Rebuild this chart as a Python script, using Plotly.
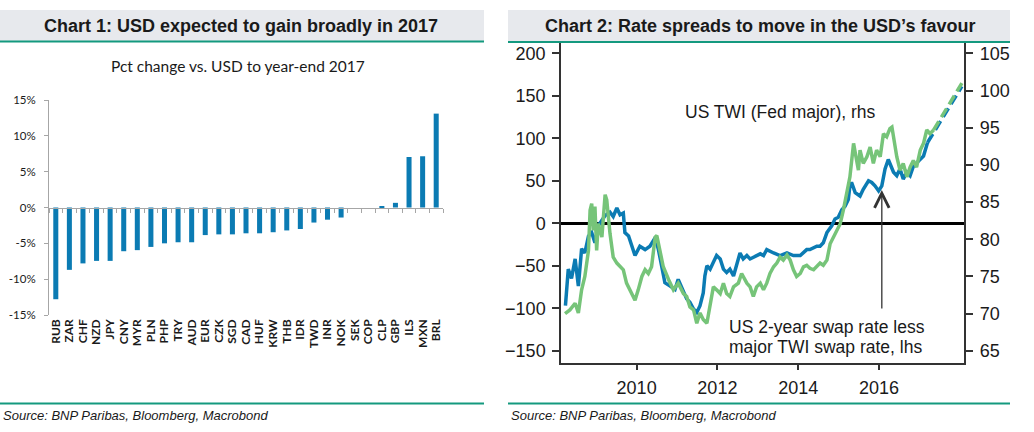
import plotly.graph_objects as go
import pandas as pd

W, H = 1034, 432

# ---------------- Chart 1 data ----------------
currencies = ["RUB", "ZAR", "CHF", "NZD", "JPY", "CNY", "MYR", "PLN", "PHP", "TRY",
              "AUD", "EUR", "CZK", "SGD", "CAD", "HUF", "KRW", "THB", "IDR", "TWD",
              "INR", "NOK", "SEK", "COP", "CLP", "GBP", "ILS", "MXN", "BRL"]
pct_change = [-12.8, -8.7, -7.8, -7.45, -7.45, -6.1, -5.95, -5.5, -5.0, -4.85,
              -4.85, -3.85, -3.75, -3.75, -3.6, -3.6, -3.45, -3.2, -3.0, -2.1,
              -1.7, -1.4, 0.0, 0.0, 0.1, 0.65, 7.05, 7.15, 13.1]
pct_ticks = [-15, -10, -5, 0, 5, 10, 15]

# ---------------- Chart 2 data ----------------
spread_years = [2008.24, 2008.31, 2008.39, 2008.48, 2008.56, 2008.64, 2008.72, 2008.81, 2008.89, 2008.97,
                2009.05, 2009.22, 2009.34, 2009.42, 2009.51, 2009.59, 2009.67, 2009.71, 2009.80, 2009.88,
                2009.96, 2010.08, 2010.21, 2010.33, 2010.46, 2010.54, 2010.62, 2010.70, 2010.83, 2010.95,
                2011.03, 2011.16, 2011.24, 2011.32, 2011.41, 2011.49, 2011.57, 2011.65, 2011.69, 2011.74,
                2011.82, 2011.90, 2011.98, 2012.07, 2012.15, 2012.23, 2012.31, 2012.40, 2012.48, 2012.56,
                2012.64, 2012.73, 2012.81, 2012.89, 2012.97, 2013.06, 2013.14, 2013.22, 2013.39, 2013.55,
                2013.72, 2013.88, 2014.05, 2014.21, 2014.29, 2014.46, 2014.54, 2014.62, 2014.71, 2014.83,
                2014.91, 2014.99, 2015.08, 2015.16, 2015.24, 2015.28, 2015.32, 2015.41, 2015.53, 2015.61,
                2015.74, 2015.82, 2015.90, 2015.99, 2016.07, 2016.15, 2016.23, 2016.27, 2016.36, 2016.44,
                2016.52, 2016.60, 2016.69, 2016.77, 2016.85, 2016.93, 2017.02, 2017.10, 2017.20]
spread_bp = [-97, -54, -65, -42, -74, -30, -35, -15, -11, -23,
             -3, 9, 13, 8, 18, 10, 12, -11, -15, -27,
             -38, -27, -31, -27, -17, -31, -50, -70, -74, -78,
             -66, -80, -89, -93, -101, -105, -97, -82, -62, -50,
             -54, -46, -38, -42, -54, -58, -54, -62, -50, -35,
             -42, -38, -42, -40, -38, -36, -38, -31, -35, -38,
             -35, -38, -38, -31, -31, -27, -27, -23, -11, -3,
             5, 7, 16, 20, 28, 44, 48, 36, 32, 40,
             50, 48, 44, 38, 44, 64, 75, 71, 60, 56,
             64, 52, 60, 56, 67, 71, 75, 79, 95]

twi_years = [2008.23, 2008.35, 2008.48, 2008.56, 2008.64, 2008.72, 2008.81, 2008.85, 2008.89, 2008.93,
             2008.97, 2009.01, 2009.05, 2009.14, 2009.22, 2009.26, 2009.34, 2009.42, 2009.51, 2009.59,
             2009.67, 2009.75, 2009.84, 2009.96, 2010.04, 2010.13, 2010.21, 2010.29, 2010.37, 2010.46,
             2010.50, 2010.58, 2010.66, 2010.79, 2010.91, 2011.03, 2011.16, 2011.24, 2011.32, 2011.41,
             2011.49, 2011.57, 2011.65, 2011.74, 2011.82, 2011.90, 2011.98, 2012.07, 2012.15, 2012.23,
             2012.31, 2012.40, 2012.52, 2012.60, 2012.73, 2012.81, 2012.89, 2012.97, 2013.06, 2013.14,
             2013.22, 2013.30, 2013.39, 2013.47, 2013.55, 2013.63, 2013.72, 2013.80, 2013.88, 2013.96,
             2014.05, 2014.13, 2014.21, 2014.29, 2014.38, 2014.46, 2014.54, 2014.62, 2014.71, 2014.79,
             2014.95, 2015.04, 2015.12, 2015.20, 2015.28, 2015.37, 2015.41, 2015.49, 2015.53, 2015.61,
             2015.70, 2015.78, 2015.86, 2015.94, 2016.03, 2016.11, 2016.19, 2016.27, 2016.32, 2016.36,
             2016.44, 2016.52, 2016.60, 2016.69, 2016.77, 2016.85, 2016.93, 2017.02, 2017.10, 2017.18,
             2017.26, 2017.35]
twi_index = [70.0, 70.5, 71.4, 70.1, 73.2, 75.0, 78.5, 83.9, 84.8, 81.2,
             84.4, 78.5, 82.1, 80.3, 86.0, 85.3, 80.8, 77.6, 76.8, 76.3,
             75.9, 74.1, 73.2, 71.8, 73.2, 75.0, 75.9, 75.4, 76.3, 80.3,
             80.5, 78.5, 76.3, 74.6, 73.2, 74.1, 72.7, 72.3, 70.9, 70.5,
             68.7, 70.1, 69.2, 68.7, 70.9, 73.6, 73.2, 72.7, 74.1, 72.7,
             72.3, 73.6, 74.1, 75.4, 74.1, 73.6, 72.3, 73.6, 74.1, 73.2,
             74.1, 75.4, 76.3, 76.8, 77.6, 77.2, 77.9, 77.2, 75.9, 75.0,
             75.4, 76.3, 76.5, 76.1, 75.9, 76.3, 76.8, 76.5, 77.2, 79.4,
             81.2, 82.1, 84.0, 86.2, 88.4, 92.9, 91.6, 89.3, 92.0, 90.2,
             91.1, 92.4, 90.2, 92.0, 91.1, 94.2, 93.8, 94.9, 95.1, 93.8,
             91.1, 89.3, 90.2, 88.4, 89.7, 90.6, 89.7, 92.0, 92.9, 94.7,
             94.2, 94.7]

spread_fc_years = [2017.20, 2018.05]
spread_fc_bp = [95, 161]
twi_fc_years = [2017.35, 2018.05]
twi_fc_index = [94.7, 101.0]

lhs_ticks = [-150, -100, -50, 0, 50, 100, 150, 200]
rhs_ticks = [65, 70, 75, 80, 85, 90, 95, 100, 105]
year_ticks = [2010, 2012, 2014, 2016]

arrow_year, arrow_tip, arrow_tail = 2016.07, 39, -102


def to_date(y):
    yr = int(y)
    return pd.Timestamp(year=yr, month=1, day=1) + pd.Timedelta(days=(y - yr) * 365.25)


def dates(years):
    return [to_date(y) for y in years]


def px(x):
    return x / W


def py(y):
    return 1 - y / H


BLUE = "#0b7bb3"
GREEN = "#76c479"
TEAL = "#14997f"
BAND = "#e7e9ed"
TXT = "#1a1a1a"

fig = go.Figure()

# Chart 1 bars
fig.add_trace(go.Bar(x=currencies, y=pct_change, marker=dict(color=BLUE, line=dict(width=0)),
                     xaxis="x", yaxis="y", showlegend=False, hoverinfo="skip"))

# Chart 2 lines
fig.add_trace(go.Scatter(x=dates(spread_years), y=spread_bp, mode="lines",
                         line=dict(color=BLUE, width=3.5), xaxis="x3", yaxis="y3",
                         showlegend=False, hoverinfo="skip"))
fig.add_trace(go.Scatter(x=dates(spread_fc_years), y=spread_fc_bp, mode="lines",
                         line=dict(color=BLUE, width=3.5, dash="10px,5px"), xaxis="x3", yaxis="y3",
                         showlegend=False, hoverinfo="skip"))
fig.add_trace(go.Scatter(x=dates(twi_years), y=twi_index, mode="lines",
                         line=dict(color=GREEN, width=3.5), xaxis="x3", yaxis="y4",
                         showlegend=False, hoverinfo="skip"))
fig.add_trace(go.Scatter(x=dates(twi_fc_years), y=twi_fc_index, mode="lines",
                         line=dict(color=GREEN, width=3.5, dash="10px,5px"), xaxis="x3", yaxis="y4",
                         showlegend=False, hoverinfo="skip"))

y1_dom = [py(315), py(100)]
y3_dom = [py(362.7), py(43)]

fig.update_layout(
    template="none",
    width=W, height=H, margin=dict(l=0, r=0, t=0, b=0, pad=0, autoexpand=False),
    paper_bgcolor="white", plot_bgcolor="rgba(0,0,0,0)",
    showlegend=False,
    bargap=0.63,
    font=dict(family="Liberation Sans, Arial", color=TXT),
    xaxis=dict(domain=[px(49), px(443)], anchor="free", position=(y1_dom[0] + y1_dom[1]) / 2,
               type="category", categoryorder="array", categoryarray=currencies,
               tickmode="array", tickvals=currencies, ticktext=currencies,
               showline=True, linecolor="#a6a6a6", linewidth=1,
               ticks="outside", ticklen=4, tickcolor="#a6a6a6", tickson="boundaries",
               showgrid=False, zeroline=False, tickangle=-90, automargin=False,
               tickfont=dict(family="Lato", size=12, color=TXT, weight="bold"),
               ticklabelstandoff=106),
    yaxis=dict(domain=y1_dom, anchor="x", range=[-15, 15], tickmode="array", tickvals=pct_ticks,
               ticktext=[f"{v}%" for v in pct_ticks],
               showline=True, linecolor="#a6a6a6", linewidth=1,
               ticks="outside", ticklen=4, tickcolor="#a6a6a6", showgrid=False,
               zeroline=False, automargin=False,
               tickfont=dict(family="Lato", size=11.5, color=TXT),
               ticklabelstandoff=6),
    xaxis3=dict(domain=[px(561), px(964.3)], anchor="y3", type="date",
                range=[to_date(2008.13), to_date(2018.11)],
                tickmode="array",
                tickvals=[pd.Timestamp(year=y, month=1, day=1) for y in year_ticks],
                ticktext=[str(y) for y in year_ticks],
                showline=True, linecolor="#333333", linewidth=1.5, mirror=False,
                ticks="outside", ticklen=6, tickcolor="#333333", tickwidth=1.5,
                showgrid=False, zeroline=False, automargin=False,
                tickfont=dict(size=18, color=TXT), ticklabelstandoff=2),
    yaxis3=dict(domain=y3_dom, anchor="x3", range=[-164.1, 212.1],
                tickmode="array", tickvals=lhs_ticks,
                showline=True, linecolor="#333333", linewidth=1.5,
                ticks="outside", ticklen=7, tickcolor="#333333", tickwidth=1.5,
                showgrid=False, zeroline=True, zerolinecolor="black", zerolinewidth=3,
                automargin=False,
                tickfont=dict(size=18, color=TXT), ticklabelstandoff=3),
    yaxis4=dict(domain=y3_dom, anchor="x3", overlaying="y3", side="right",
                range=[63.4, 106.4], tickmode="array", tickvals=rhs_ticks,
                showline=True, linecolor="#333333", linewidth=1.5,
                ticks="outside", ticklen=7, tickcolor="#333333", tickwidth=1.5,
                showgrid=False, zeroline=False, automargin=False,
                tickfont=dict(size=18, color=TXT), ticklabelstandoff=3),
)

shapes = [
    dict(type="rect", xref="paper", yref="paper", x0=px(0), x1=px(484), y0=py(41), y1=py(10),
         fillcolor=BAND, line=dict(width=0), layer="below"),
    dict(type="rect", xref="paper", yref="paper", x0=px(508), x1=px(1010), y0=py(42), y1=py(10),
         fillcolor=BAND, line=dict(width=0), layer="below"),
    dict(type="line", xref="paper", yref="paper", x0=px(0), x1=px(484), y0=py(41.5), y1=py(41.5),
         line=dict(color=TEAL, width=2)),
    dict(type="line", xref="paper", yref="paper", x0=px(508), x1=px(1010), y0=py(42), y1=py(42),
         line=dict(color=TEAL, width=2)),
    dict(type="line", xref="paper", yref="paper", x0=px(0), x1=px(484), y0=py(403.5), y1=py(403.5),
         line=dict(color=TEAL, width=2)),
    dict(type="line", xref="paper", yref="paper", x0=px(508), x1=px(1010), y0=py(403.5), y1=py(403.5),
         line=dict(color=TEAL, width=2)),
]
fig.update_layout(shapes=shapes)

annotations = [
    dict(text="<b>Chart 1: USD expected to gain broadly in 2017</b>", xref="paper", yref="paper",
         x=px(241), y=py(25.5), xanchor="center", yanchor="middle", showarrow=False,
         font=dict(size=18, color=TXT)),
    dict(text="<b>Chart 2: Rate spreads to move in the USD\u2019s favour</b>", xref="paper", yref="paper",
         x=px(760), y=py(25.5), xanchor="center", yanchor="middle", showarrow=False,
         font=dict(size=18, color=TXT)),
    dict(text="Pct change vs. USD to year-end 2017", xref="paper", yref="paper",
         x=px(238), y=py(66), xanchor="center", yanchor="middle", showarrow=False,
         font=dict(family="Lato", size=15.5, color=TXT)),
    dict(text="<i>Source: BNP Paribas, Bloomberg, Macrobond</i>", xref="paper", yref="paper",
         x=px(1), y=py(415), xanchor="left", yanchor="middle", showarrow=False,
         font=dict(size=13, color=TXT)),
    dict(text="<i>Source: BNP Paribas, Bloomberg, Macrobond</i>", xref="paper", yref="paper",
         x=px(509), y=py(415), xanchor="left", yanchor="middle", showarrow=False,
         font=dict(size=13, color=TXT)),
    dict(text="US TWI (Fed major), rhs", xref="paper", yref="paper",
         x=px(683), y=py(112), xanchor="left", yanchor="middle", showarrow=False,
         font=dict(size=17.5, color=TXT)),
    dict(text="US 2-year swap rate less", xref="paper", yref="paper",
         x=px(727), y=py(326.5), xanchor="left", yanchor="middle", showarrow=False,
         font=dict(size=17.5, color=TXT)),
    dict(text="major TWI swap rate, lhs", xref="paper", yref="paper",
         x=px(727), y=py(347), xanchor="left", yanchor="middle", showarrow=False,
         font=dict(size=17.5, color=TXT)),
    dict(text="", xref="x3", yref="y3", x=to_date(arrow_year), y=arrow_tip,
         axref="x3", ayref="y3", ax=to_date(arrow_year), ay=arrow_tail,
         showarrow=True, arrowhead=5, arrowsize=2.2, arrowwidth=1.3, arrowcolor="#333333",
         standoff=0, startstandoff=0),
]
fig.update_layout(annotations=annotations)

fig.write_html("out.html", config={"displayModeBar": False},
               post_script="document.body.style.margin='0';")
